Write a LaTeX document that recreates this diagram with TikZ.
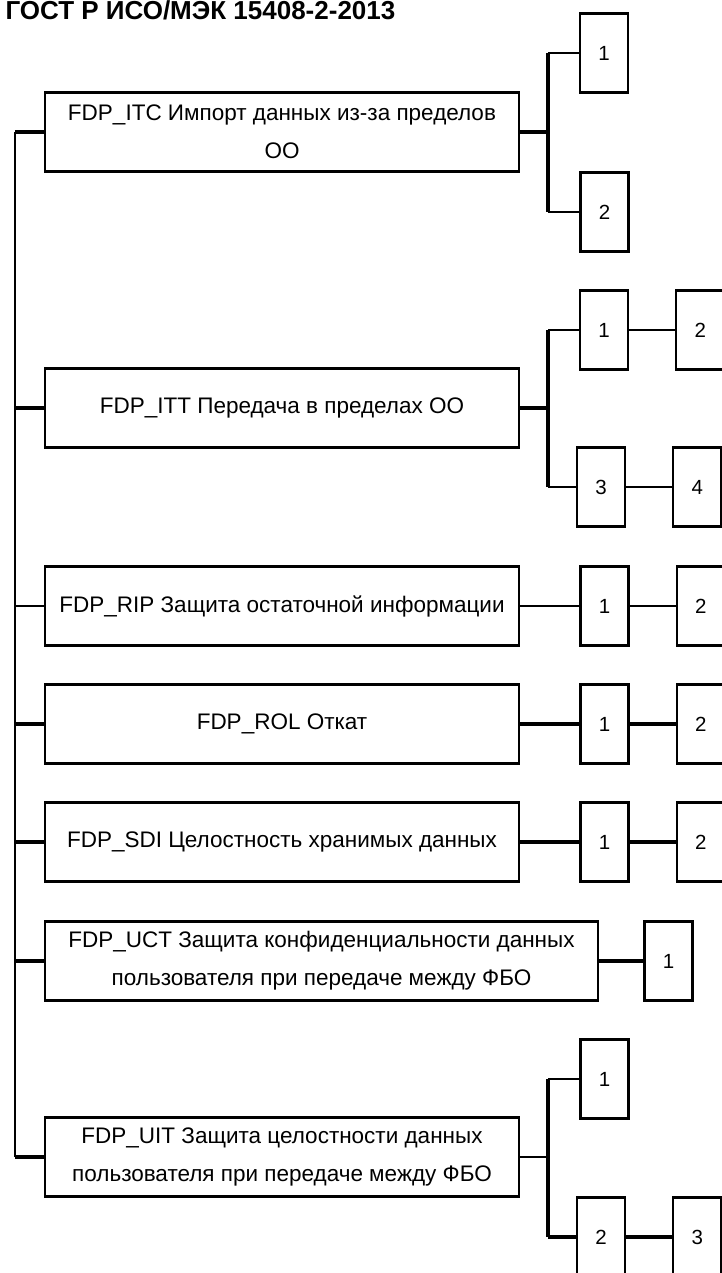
\documentclass[tikz,border=0pt]{standalone}
\usepackage{fontspec}
\setmainfont{Liberation Sans}
\usetikzlibrary{positioning}
\tikzset{node distance=46pt, % Gap between two chained component boxes
  every node/.style={           align=center,
},
         familybox/.style={ % Boxes of the families
           draw, rectangle,
           line width=2.2pt,
           minimum width=474pt, minimum height=79pt,
           font=\fontsize{22.5}{38}\selectfont},
         compbox/.style={   % Boxes of the components
           draw, rectangle,
           line width=2.2pt, inner sep=0pt,
           minimum width=48pt, minimum height=79pt,
           font=\fontsize{20.5}{24}\selectfont},
         link/.style={      % Thin connectors
           line width=1.6pt},
         boldlink/.style={  % Thick connectors
           line width=3.4pt}}
\begin{document}
\begin{tikzpicture}[x=1pt,y=-1pt]
  \useasboundingbox (0,0) rectangle (722,1273);

  \node [anchor=base west, font=\bfseries\fontsize{26}{30}\selectfont] (title) at (2,19.5) {ГОСТ Р ИСО/МЭК 15408-2-2013};

  \coordinate (trunk) at (15,0);
  \coordinate (fork) at (548,0);

  \node [familybox] (itc) at (282,132) {FDP\_ITC Импорт данных из-за пределов\\ОО};
  \node [familybox] (itt) at (282,408) {FDP\_ITT Передача в пределах ОО};
  \node [familybox] (rip) at (282,606) {FDP\_RIP Защита остаточной информации};
  \node [familybox] (rol) at (282,724) {FDP\_ROL Откат};
  \node [familybox] (sdi) at (282,842) {FDP\_SDI Целостность хранимых данных};
  \node [familybox, minimum width=553pt] (uct) at (321.5,961) {FDP\_UCT Защита конфиденциальности данных\\пользователя при передаче между ФБО};
  \node [familybox] (uit) at (282,1157) {FDP\_UIT Защита целостности данных\\пользователя при передаче между ФБО};

  \node [compbox] (itc1) at (604,53) {1};
  \node [compbox] (itc2) at (604.5,212) {2};

  \node [compbox] (itt1) at (604,330) {1};
  \node [compbox, right=of itt1] (itt2) {2};
  \node [compbox] (itt3) at (601,487) {3};
  \node [compbox, right=of itt3] (itt4) {4};

  \node [compbox] (rip1) at (604.5,606) {1};
  \node [compbox, right=of rip1] (rip2) {2};

  \node [compbox] (rol1) at (604.5,724) {1};
  \node [compbox, right=of rol1] (rol2) {2};

  \node [compbox] (sdi1) at (604.5,842) {1};
  \node [compbox, right=of sdi1] (sdi2) {2};

  \node [compbox] (uct1) at (668.5,961) {1};

  \node [compbox] (uit1) at (604.5,1079) {1};
  \node [compbox] (uit2) at (601,1237) {2};
  \node [compbox, right=of uit2] (uit3) {3};

  % left trunk
  \draw [link] (itc.west -| trunk) -- (uit.west -| trunk);
  \draw [boldlink] (itc.west -| trunk) -- (itc.west);
  \draw [boldlink] (itt.west -| trunk) -- (itt.west);
  \draw [link] (rip.west -| trunk) -- (rip.west);
  \draw [boldlink] (rol.west -| trunk) -- (rol.west);
  \draw [boldlink] (sdi.west -| trunk) -- (sdi.west);
  \draw [boldlink] (uct.west -| trunk) -- (uct.west);
  \draw [boldlink] (uit.west -| trunk) -- (uit.west);

  % FDP_ITC
  \draw [boldlink] (itc.east) -- (itc.east -| fork);
  \draw [boldlink] (itc1.west -| fork) -- (itc2.west -| fork);
  \draw [link] (itc1.west -| fork) -- (itc1.west);
  \draw [link] (itc2.west -| fork) -- (itc2.west);

  % FDP_ITT
  \draw [boldlink] (itt.east) -- (itt.east -| fork);
  \draw [boldlink] (itt1.west -| fork) -- (itt3.west -| fork);
  \draw [link] (itt1.west -| fork) -- (itt1.west);
  \draw [link] (itt3.west -| fork) -- (itt3.west);
  \draw [link] (itt1) edge (itt2) (itt3) edge (itt4);

  % FDP_RIP, FDP_ROL, FDP_SDI, FDP_UCT
  \draw [link] (rip) edge (rip1) (rip1) edge (rip2);
  \draw [boldlink] (rol) edge (rol1) (rol1) edge (rol2);
  \draw [boldlink] (sdi) edge (sdi1) (sdi1) edge (sdi2);
  \draw [boldlink] (uct) -- (uct1);

  % FDP_UIT
  \draw [link] (uit.east) -- (uit.east -| fork);
  \draw [boldlink] (uit1.west -| fork) -- (uit2.west -| fork);
  \draw [link] (uit1.west -| fork) -- (uit1.west);
  \draw [boldlink] (uit2.west -| fork) -- (uit2.west);
  \draw [boldlink] (uit2) -- (uit3);

\end{tikzpicture}
\end{document}
